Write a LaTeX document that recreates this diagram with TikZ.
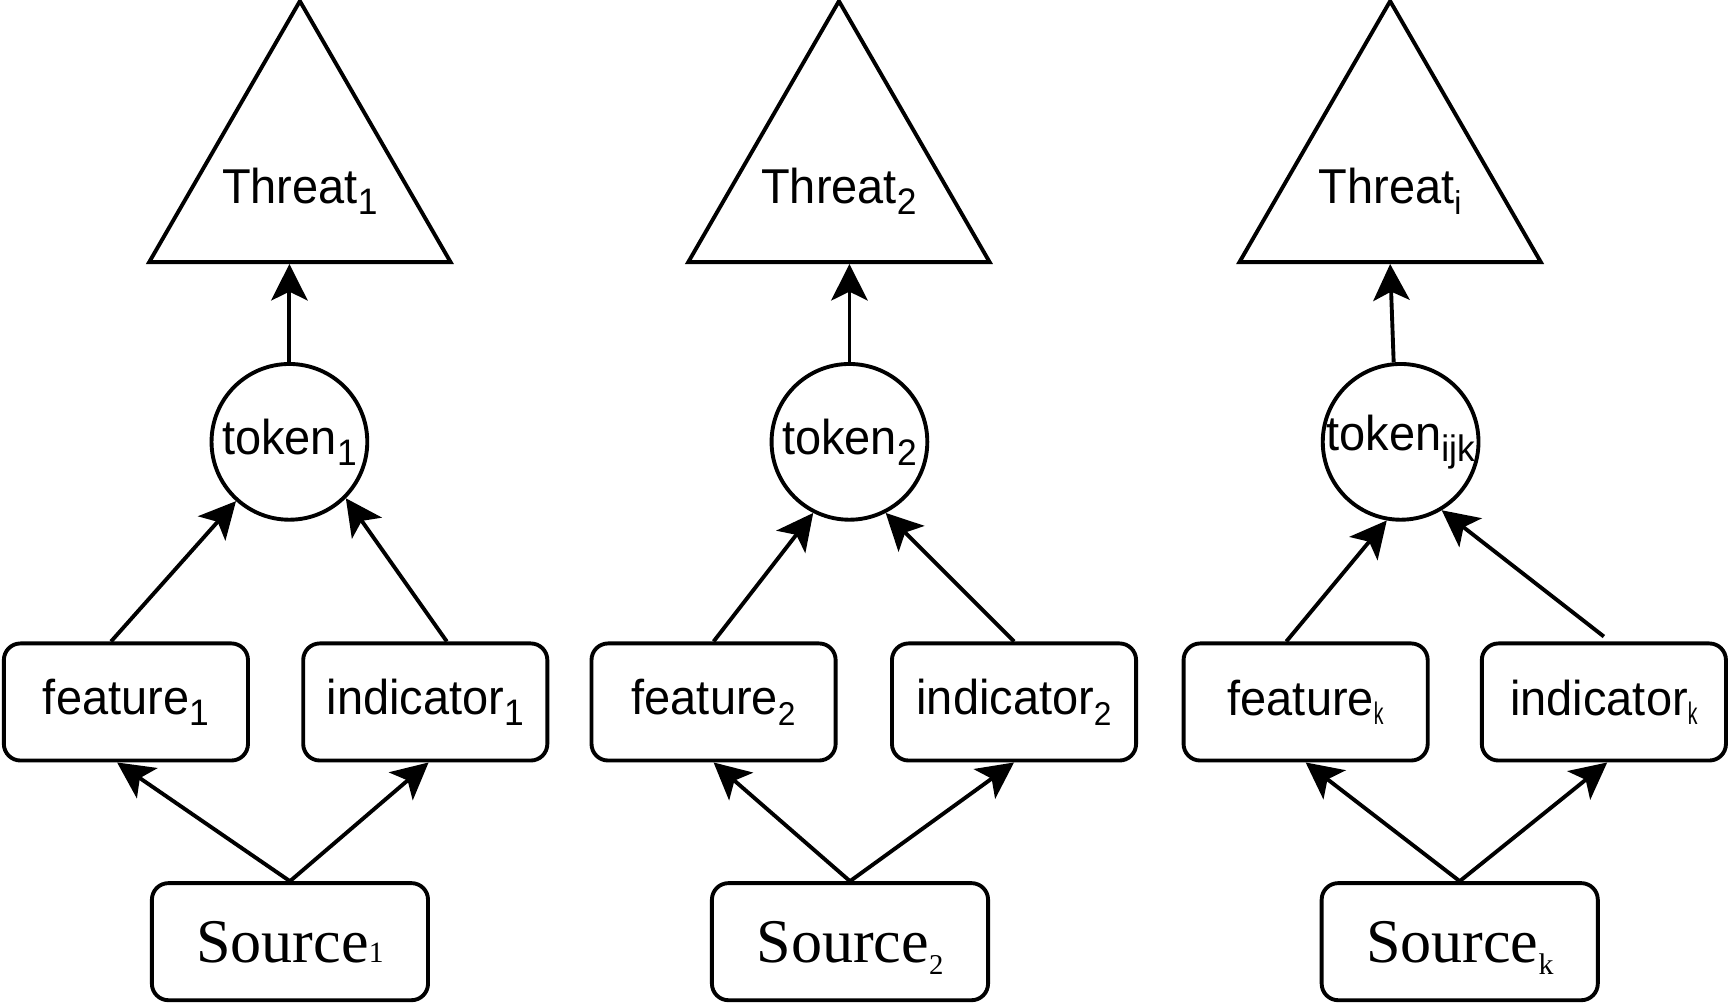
\documentclass[tikz,border=0pt]{standalone}
\usepackage{fontspec}
\usepackage{graphicx}
\newfontfamily\labelfont[FakeStretch=0.96]{Liberation Sans}
\newfontfamily\srcfont{Liberation Serif}
\newcommand{\lowsub}[3]{\raisebox{#1}{\fontsize{#2}{#2}\selectfont #3}}
\newcommand{\thr}[1]{\makebox[0pt]{\raisebox{-2.55mm}[0pt][0pt]{Threat#1}}}
\usepackage{tikz}
\usetikzlibrary{shapes.geometric,arrows.meta}
\tikzstyle{Tri}=[draw,line width=1pt,regular polygon,regular polygon sides=3,minimum size=3.15cm,inner sep=0pt,font=\labelfont\fontsize{12.6}{14}\selectfont]
\tikzstyle{Tok}=[draw,line width=1pt,circle,minimum size=1.41cm,inner sep=-1mm,font=\labelfont\fontsize{12.6}{14}\selectfont]
\tikzstyle{Box}=[draw,line width=1pt,rounded corners=0.15cm,minimum width=2.21cm,minimum height=1.06cm,font=\labelfont\fontsize{12.6}{14}\selectfont]
\tikzstyle{Src}=[Box,minimum width=2.5cm,text depth=0pt,font=\srcfont\fontsize{16}{18}\selectfont]
\tikzstyle{Line}=[-{Stealth[length=3.3mm,width=3.3mm,inset=0.8mm]},line width=1pt]

\begin{document}
\begin{tikzpicture}

    \useasboundingbox (0,0) rectangle (15.68,-9.09);

    \node[Tri] (th1) at (2.715, -1.585) {\thr{\lowsub{-2.8pt}{9.5}{1}}};
    \node[Tri] (th2) at (7.595, -1.585) {\thr{\lowsub{-2.8pt}{9.5}{2}}};
    \node[Tri] (th3) at (12.585, -1.585) {\thr{\lowsub{-2.8pt}{8.5}{i}}};

    \node[Tok] (t1) at (2.62, -4.00) {token\lowsub{-2.8pt}{9.5}{1}};
    \node[Tok] (t2) at (7.69, -4.00) {token\lowsub{-2.8pt}{9.5}{2}};
    \node[Tok] (t3) at (12.68, -4.00) {token\lowsub{-2.8pt}{9.5}{ijk}};

    \node[Box] (f1) at (1.14, -6.355) {feature\lowsub{-2.8pt}{9.5}{1}};
    \node[Box] (i1) at (3.85, -6.355) {indicator\lowsub{-2.8pt}{9.5}{1}};
    \node[Box] (f2) at (6.46, -6.355) {feature\lowsub{-2.8pt}{8.5}{2}};
    \node[Box] (i2) at (9.18, -6.355) {indicator\lowsub{-2.8pt}{8.5}{2}};
    \node[Box] (f3) at (11.82, -6.355) {feature\lowsub{-2.4pt}{8}{\scalebox{0.65}[1]{k}}};
    \node[Box] (i3) at (14.52, -6.355) {indicator\lowsub{-2.4pt}{8}{\scalebox{0.65}[1]{k}}};

    \node[Src] (s1) at (2.625, -8.525) {Source\lowsub{0pt}{7.6}{1}};
    \node[Src] (s2) at (7.695, -8.525) {Source\lowsub{-3.2pt}{7.4}{2}};
    \node[Src] (s3) at (13.215, -8.525) {Source\lowsub{-3.2pt}{7.7}{k}};

    \draw[Line] (t1.north) to (t1.north |- th1.side 2);
    \draw[Line] (t2.north) to (t2.north |- th2.side 2);
    \draw[Line] (t3.95) to (th3.side 2);

    \draw[Line] ([xshift=-0.135cm]f1.north) to (t1.-132);
    \draw[Line] ([xshift=0.195cm]i1.north) to (t1.-45);
    \draw[Line] (f2.north) to (t2.-117);
    \draw[Line] (i2.north) to (t2.-63);
    \draw[Line] ([xshift=-0.175cm]f3.north) to (t3.-100);
    \draw[Line] ([yshift=0.045cm]i3.north) to (t3.-59);

    \draw[Line] (s1.north) to ([xshift=-0.08cm]f1.south);
    \draw[Line] (s1.north) to ([xshift=0.03cm]i1.south);
    \draw[Line] (s2.north) to (f2.south);
    \draw[Line] (s2.north) to (i2.south);
    \draw[Line] (s3.north) to (f3.south);
    \draw[Line] (s3.north) to ([xshift=0.03cm]i3.south);

\end{tikzpicture}
\end{document}
